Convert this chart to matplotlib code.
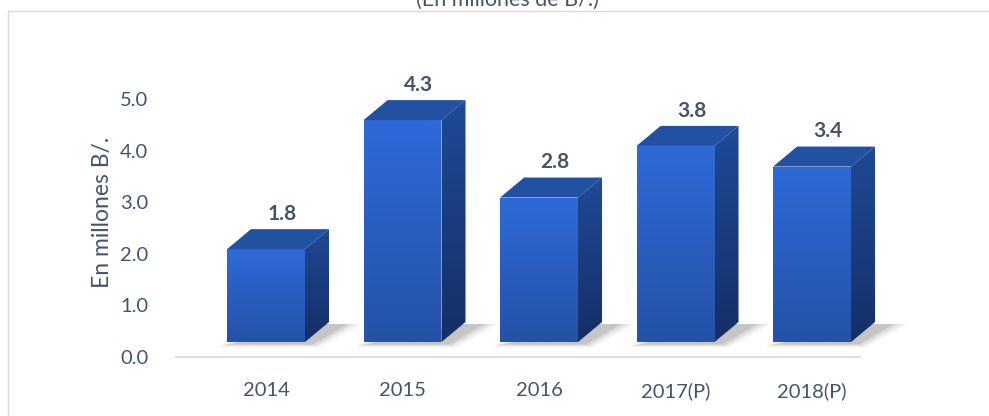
import numpy as np
import matplotlib
matplotlib.use('Agg')
import matplotlib.pyplot as plt
from matplotlib.patches import Polygon, Rectangle

# datos
years = ['2014', '2015', '2016', '2017(P)', '2018(P)']
values = [1.8, 4.3, 2.8, 3.8, 3.4]
yticks = [0.0, 1.0, 2.0, 3.0, 4.0, 5.0]

txt_color = '#44546A'
plt.rcParams['font.family'] = ['Lato', 'DejaVu Sans']

fig = plt.figure(figsize=(9.89, 4.16), dpi=100)
ax = fig.add_axes([0.178, 0.1418, 0.7397, 0.6947])
ax.set_xlim(-0.659, 4.7)
ax.set_ylim(0, 5.6)

# marco gris claro y titulo cortado
fig.patches.append(Rectangle((8 / 989, -0.05), 1.2, 1.05 - 11 / 416,
                             transform=fig.transFigure, fill=False,
                             edgecolor='#D9D9D9', lw=1.0))
fig.text(0.513, 0.986, '(En millones de B/.)', ha='center', va='baseline',
         fontsize=15.5, color=txt_color)

w = 0.571      # ancho cara frontal
dx = 0.176     # profundidad en x
dy = 0.388     # profundidad en y
base = 0.29    # base de la cara frontal (piso 3D)


def grad_fill(poly, c_top, c_bot, y0, y1, zorder):
    ax.add_patch(poly)
    poly.set_visible(False)
    c1 = np.array(matplotlib.colors.to_rgb(c_top))
    c2 = np.array(matplotlib.colors.to_rgb(c_bot))
    t = np.linspace(0, 1, 100)[:, None]
    img = (c1 * (1 - t) + c2 * t)[:, None, :]
    xs = poly.get_xy()[:, 0]
    im = ax.imshow(img, extent=(xs.min(), xs.max(), y0, y1), aspect='auto',
                   origin='upper', zorder=zorder, interpolation='bilinear')
    im.set_clip_path(poly)


for i, v in enumerate(values):
    x0 = i - w / 2
    x1 = i + w / 2
    top = base + v
    # sombra difusa
    for k, a in enumerate([0.05, 0.07, 0.09, 0.12]):
        e = 0.035 * (4 - k)
        sh = Polygon([(x0 - 0.02 - e * 0.3, base - 0.03 - e * 0.5),
                      (x1 + 0.04 + e * 0.5, base - 0.03 - e * 0.5),
                      (x1 + dx + 0.10 + e, base + dy * 0.9),
                      (x1 + dx - 0.02, base + dy * 0.9)],
                     closed=True, facecolor='#404040', edgecolor='none',
                     alpha=a, zorder=1)
        ax.add_patch(sh)
    # cara frontal
    front = Polygon([(x0, base), (x1, base), (x1, top), (x0, top)], closed=True)
    grad_fill(front, '#2E6AD8', '#2452A8', base, top, 3)
    # cara lateral
    side = Polygon([(x1, base), (x1 + dx, base + dy), (x1 + dx, top + dy), (x1, top)],
                   closed=True)
    grad_fill(side, '#1F4A96', '#152F68', base, top + dy, 3)
    # cara superior
    ax.add_patch(Polygon([(x0, top), (x1, top), (x1 + dx, top + dy), (x0 + dx, top + dy)],
                         closed=True, facecolor='#2351A2', edgecolor='none', zorder=3))
    ax.text(i + dx / 2 + 0.03, top + dy + 0.1, f'{v:.1f}', ha='center', va='bottom',
            fontsize=15, fontweight='bold', color=txt_color, zorder=4)

ax.set_xticks(range(len(years)))
ax.set_xticklabels(years)
ax.set_yticks(yticks)
ax.set_yticklabels([f'{t:.1f}' for t in yticks])
ax.tick_params(axis='both', length=0, labelsize=14.5, labelcolor=txt_color)
ax.tick_params(axis='y', pad=20)
ax.tick_params(axis='x', pad=18)
ax.set_ylabel('En millones B/.', fontsize=16.5, color=txt_color, labelpad=5)

for s in ['top', 'right', 'left']:
    ax.spines[s].set_visible(False)
ax.spines['bottom'].set_color('#D9D9D9')
ax.spines['bottom'].set_linewidth(1.2)
ax.spines['bottom'].set_bounds(-0.659, 4.352)
ax.patch.set_visible(False)

fig.savefig('out.png', dpi=100)
